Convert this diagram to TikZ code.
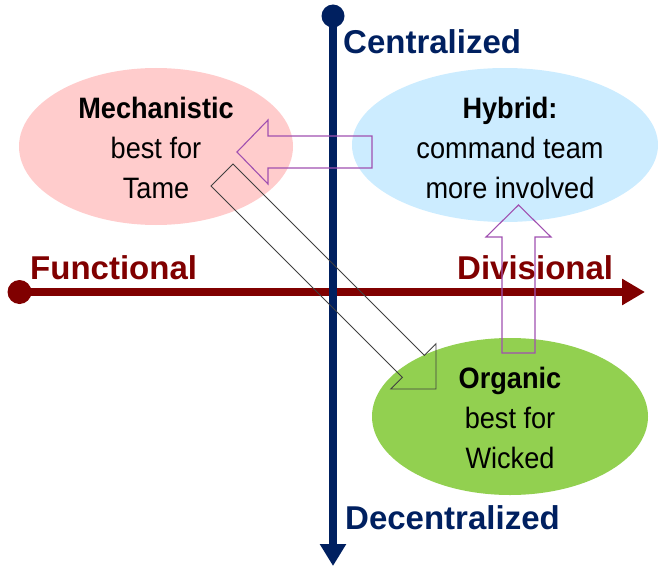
\documentclass[tikz,border=0pt]{standalone}
\usepackage{fontspec}
\setmainfont{Liberation Sans}
\newfontfamily\bodyfont[FakeStretch=0.92]{Liberation Sans}
\usetikzlibrary{arrows.meta,shapes.geometric,calc}

\definecolor{axisred}{HTML}{800000}
\definecolor{axisblue}{HTML}{002060}
\definecolor{pinkfill}{HTML}{FFCCCC}
\definecolor{bluefill}{HTML}{CCECFF}
\definecolor{greenfill}{HTML}{92D050}
\definecolor{flowpurple}{HTML}{A050B0}

% hollow block arrow: style, tail, tip, shaft half width, head half width, head length
\newcommand\blockarrowdraw[6]{%
  \path ($(#3)!#6!(#2)$) coordinate (hb);
  \draw[#1] ($(#2)!#4!90:(#3)$) -- ($(hb)!#4!90:(#3)$) -- ($(hb)!#5!90:(#3)$)
    -- (#3) -- ($(hb)!#5!-90:(#3)$) -- ($(hb)!#4!-90:(#3)$) -- ($(#2)!#4!-90:(#3)$) -- cycle;
}

\begin{document}
\begin{tikzpicture}[x=1pt,y=-1pt,
  blob/.style={ellipse, draw=none, inner sep=0pt},
  bodytext/.style={align=center, inner sep=0pt, font=\bodyfont\fontsize{29.5}{40}\selectfont},
  axislabel/.style={anchor=base west, inner sep=0pt, font=\fontsize{33}{36}\selectfont\bfseries},
  axisdot/.style={circle, inner sep=0pt, minimum size=24pt},
  purpleflow/.style={draw=flowpurple, line width=1.1pt, line join=miter},
  grayflow/.style={draw=black!75, line width=0.9pt, line join=miter}]
\useasboundingbox (0,0) rectangle (658,567);

% quadrant ellipses
\node[blob, fill=pinkfill, minimum width=274pt, minimum height=157pt] (mech) at (156,146.5) {};
\node[blob, fill=bluefill, minimum width=306pt, minimum height=154pt] (hyb) at (505,145) {};
\node[blob, fill=greenfill, minimum width=276pt, minimum height=157pt] (org) at (510,416.5) {};

% horizontal axis
\node[axisdot, fill=axisred] (hstart) at (19.5,292) {};
\coordinate (hend) at (645,292);
\draw[axisred, line width=8pt, -{Triangle[length=23pt,width=25pt]}] (hstart.center) -- (hend);

% vertical axis
\node[axisdot, fill=axisblue, minimum size=23pt] (vstart) at (333,16) {};
\coordinate (vend) at (333,566);
\draw[axisblue, line width=8.5pt, -{Triangle[length=22pt,width=25pt]}] (vstart.center) -- (vend);

% axis labels
\node[axislabel, text=axisred] (functional) at (30,279) {Functional};
\node[axislabel, text=axisred] (divisional) at (457,279) {Divisional};
\node[axislabel, text=axisblue] (central) at (343,54) {Centralized};
\node[axislabel, text=axisblue] (decentral) at (345,529) {Decentralized};

% ellipse texts
\node[bodytext] (mechtext) at (156,148) {\textbf{Mechanistic}\\best for\\Tame};
\node[bodytext] (hybtext) at (510,148) {\textbf{Hybrid:}\\command team\\more involved};
\node[bodytext] (orgtext) at (510,418) {\textbf{Organic}\\best for\\Wicked};

% hollow transition arrows
\coordinate (lefttail) at (372,152);
\coordinate (lefttip) at (237,152);
\blockarrowdraw{purpleflow}{lefttail}{lefttip}{16pt}{32pt}{31pt}

\coordinate (uptail) at (518.5,353);
\coordinate (uptip) at (518.5,205);
\blockarrowdraw{purpleflow}{uptail}{uptip}{16.5pt}{32.5pt}{32pt}

\coordinate (diagtail) at (222,175);
\coordinate (diagtip) at (436,389);
\blockarrowdraw{grayflow}{diagtail}{diagtip}{15.5pt}{32pt}{32pt}
\end{tikzpicture}
\end{document}
